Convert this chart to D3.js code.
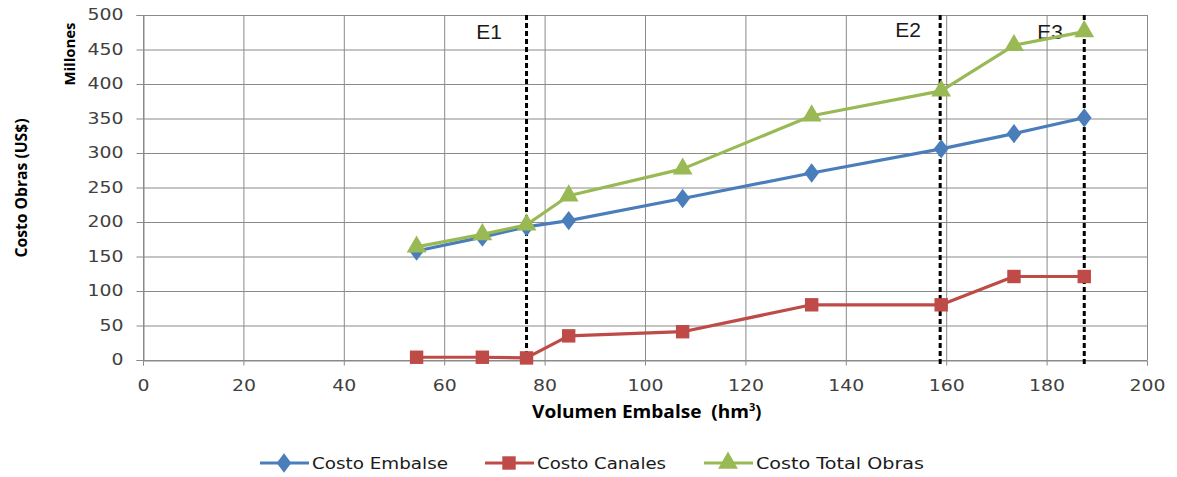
<!DOCTYPE html>
<html>
<head>
<meta charset="utf-8">
<script src="https://cdn.jsdelivr.net/npm/d3@7"></script>
<style>
  html, body { margin: 0; padding: 0; background: #fff; }
  svg { display: block; }
</style>
</head>
<body>
<svg id="chart" width="1177" height="477"></svg>
<script>
// Reservoir volume (hm³) for each design alternative
const volumen = [54.5, 67.6, 76.4, 84.8, 107.5, 133.2, 159.0, 173.5, 187.5];
// Costs in millions of US$
const costoEmbalse = [158, 178, 193, 202, 234, 271, 306, 328, 351];
const costoCanales = [4, 4, 3, 35, 41, 80, 80, 121, 121];
const costoTotal = [164, 182, 196, 238, 277, 354, 390, 456, 476];
// Selected reservoir sizes
const etapas = ["E1", "E2", "E3"];
const etapaVolumen = [76.4, 158.8, 187.5];
const xTicks = [0, 20, 40, 60, 80, 100, 120, 140, 160, 180, 200];
const yTicks = [0, 50, 100, 150, 200, 250, 300, 350, 400, 450, 500];
const seriesNames = ["Costo Embalse", "Costo Canales", "Costo Total Obras"];

const svg = d3.select("#chart");
const plotLeft = 143, plotRight = 1147, plotTop = 15, plotBottom = 360;

const x = d3.scaleLinear().domain([0, 200]).range([plotLeft, plotRight]);
const y = d3.scaleLinear().domain([0, 500]).range([plotBottom, plotTop]);

const gridColor = "#8a8a8a";
const tickFont = "'DejaVu Sans', Verdana, sans-serif";
const titleFont = "'Open Sans', 'Liberation Sans', sans-serif";

// Gridlines
svg.append("g").selectAll("line").data(yTicks).join("line")
  .attr("x1", plotLeft).attr("x2", plotRight)
  .attr("y1", d => y(d) + 0.5).attr("y2", d => y(d) + 0.5)
  .attr("stroke", gridColor).attr("stroke-width", 1);
svg.append("g").selectAll("line").data(xTicks).join("line")
  .attr("x1", d => x(d) + 0.5).attr("x2", d => x(d) + 0.5)
  .attr("y1", plotTop).attr("y2", plotBottom)
  .attr("stroke", gridColor).attr("stroke-width", 1);

// Axes
const yAxis = d3.axisLeft(y).tickValues(yTicks).tickSize(7).tickPadding(13);
const xAxis = d3.axisBottom(x).tickValues(xTicks).tickSize(5).tickPadding(15);

const gy = svg.append("g").attr("transform", `translate(${plotLeft + 0.5},0)`).call(yAxis);
const gx = svg.append("g").attr("transform", `translate(0,${plotBottom + 0.5})`).call(xAxis);
[gx, gy].forEach(g => {
  g.select(".domain").attr("stroke", gridColor);
  g.selectAll(".tick line").attr("stroke", gridColor);
  g.selectAll(".tick text")
    .attr("fill", "#404040")
    .attr("textLength", d => String(d).length * 12)
    .attr("lengthAdjust", "spacingAndGlyphs")
    .style("font-family", tickFont)
    .style("font-size", "15px");
});

// Stage markers (vertical dashed lines)
svg.append("g").selectAll("line").data(etapaVolumen).join("line")
  .attr("x1", d => x(d)).attr("x2", d => x(d))
  .attr("y1", plotTop).attr("y2", plotBottom + 4)
  .attr("stroke", "#000").attr("stroke-width", 3)
  .attr("stroke-dasharray", "5,3");

const etapaLabelX = [489, 908, 1050];
svg.append("g").selectAll("text").data(etapas).join("text")
  .attr("x", (d, i) => etapaLabelX[i])
  .attr("y", (d, i) => i === 1 ? 37 : 39)
  .attr("text-anchor", "middle")
  .attr("fill", "#1a1a1a")
  .style("font-family", "'Liberation Sans', Arial, sans-serif")
  .style("font-size", "21px")
  .text(d => d);

// Series
const colors = ["#4a7ebb", "#be4b48", "#98b954"];
const values = [costoEmbalse, costoCanales, costoTotal];
const symbols = [d3.symbolDiamond, d3.symbolSquare, d3.symbolTriangle];
const symSizes = [120, 180, 170];

const line = d3.line().x(d => x(d[0])).y(d => y(d[1]));

values.forEach((vals, s) => {
  const pts = volumen.map((v, i) => [v, vals[i]]);
  svg.append("path")
    .datum(pts)
    .attr("d", line)
    .attr("fill", "none")
    .attr("stroke", colors[s])
    .attr("stroke-width", 3.2)
    .attr("stroke-linejoin", "round");
  svg.append("g").selectAll("path").data(pts).join("path")
    .attr("transform", d => `translate(${x(d[0])},${y(d[1])})` + (s === 0 ? " scale(1.25,0.95)" : ""))
    .attr("d", d3.symbol().type(symbols[s]).size(symSizes[s]))
    .attr("fill", colors[s]);
});

// Axis titles
svg.append("text")
  .attr("transform", "translate(27,188) rotate(-90)")
  .attr("text-anchor", "middle")
  .attr("fill", "#000")
  .attr("textLength", 139)
  .attr("lengthAdjust", "spacingAndGlyphs")
  .style("font-family", titleFont)
  .style("font-weight", "bold")
  .style("font-size", "16px")
  .text("Costo Obras (US$)");

svg.append("text")
  .attr("transform", "translate(75,54) rotate(-90)")
  .attr("text-anchor", "middle")
  .attr("fill", "#000")
  .attr("textLength", 63)
  .attr("lengthAdjust", "spacingAndGlyphs")
  .style("font-family", titleFont)
  .style("font-weight", "bold")
  .style("font-size", "14px")
  .text("Millones");

const xt = svg.append("text")
  .attr("x", 532).attr("y", 418)
  .attr("fill", "#000")
  .style("font-family", titleFont)
  .style("font-weight", "bold")
  .style("font-size", "18px");
xt.append("tspan").attr("textLength", 217).attr("lengthAdjust", "spacingAndGlyphs")
  .text("Volumen Embalse \u00a0(hm");
xt.append("tspan").attr("dy", -7).style("font-size", "11px").text("3");
xt.append("tspan").attr("dy", 7).text(")");

// Legend
const legendX = [260, 485, 704];
const legendTextLen = [136, 129, 168];
const legend = svg.append("g");
seriesNames.forEach((name, s) => {
  const g = legend.append("g").attr("transform", `translate(${legendX[s]},463)`);
  g.append("line").attr("x1", 0).attr("x2", 49).attr("y1", 0).attr("y2", 0)
    .attr("stroke", colors[s]).attr("stroke-width", 3.2);
  g.append("path")
    .attr("transform", "translate(24,0)" + (s === 0 ? " scale(1.25,0.95)" : ""))
    .attr("d", d3.symbol().type(symbols[s]).size(symSizes[s]))
    .attr("fill", colors[s]);
  g.append("text")
    .attr("x", 52).attr("y", 6)
    .attr("fill", "#1a1a1a")
    .attr("textLength", legendTextLen[s])
    .attr("lengthAdjust", "spacingAndGlyphs")
    .style("font-family", "'DejaVu Sans', Verdana, sans-serif")
    .style("font-size", "16px")
    .text(name);
});
</script>
</body>
</html>
